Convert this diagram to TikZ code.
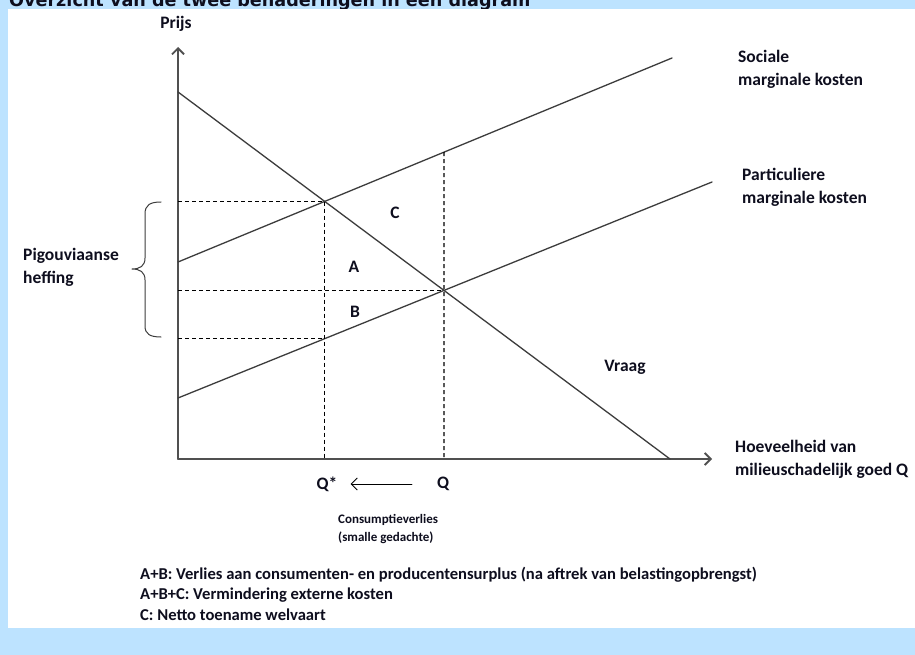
\documentclass[tikz,border=0pt]{standalone}
\usepackage{fontspec}
\setmainfont{Carlito}
\newfontfamily\titlefont{DejaVu Sans}
\usetikzlibrary{arrows.meta}
\definecolor{bgblue}{RGB}{189,227,255}
\definecolor{axisgray}{RGB}{80,80,80}
\definecolor{linegray}{RGB}{60,60,60}
\definecolor{txt}{RGB}{14,14,30}

\begin{document}
\begin{tikzpicture}[x=1pt,y=-1pt,line cap=round,line join=round,
  >={Straight Barb[length=6pt,width=12pt]},
  lbl/.style={font=\fontsize{17.5}{23}\selectfont\bfseries,text=txt,inner sep=0pt,align=left},
  note/.style={font=\fontsize{16.6}{20.5}\selectfont\bfseries,text=txt,inner sep=0pt,align=left},
  small/.style={font=\fontsize{13}{18}\selectfont\bfseries,text=txt,inner sep=0pt,align=left},
  curve/.style={color=linegray,line width=1.3pt},
  guide/.style={black,line width=1.1pt,dash pattern=on 4pt off 3pt,line cap=butt}]
\useasboundingbox (0,0) rectangle (915,655);
\fill[bgblue] (0,0) rectangle (915,655);
\node[anchor=base west,inner sep=0pt,text=txt,font=\titlefont\bfseries\fontsize{17.6}{20}\selectfont] (title) at (9,6.5) {Overzicht van de twee benaderingen in een diagram};
\fill[white] (8,9) rectangle (915,628);
% axes
\coordinate (O) at (178,459);
\coordinate (ytop) at (178,47);
\coordinate (xend) at (712,459);
\draw[->,color=axisgray,line width=1.8pt] (O) -- (ytop);
\draw[->,color=axisgray,line width=1.8pt] (O) -- (xend);
% curves
\coordinate (Da) at (178,92);
\coordinate (Db) at (670,459);
\coordinate (Sa) at (178,262);
\coordinate (Sb) at (672,58);
\coordinate (Pa) at (178,398);
\coordinate (Pb) at (712,182);
\draw[curve] (Da) -- (Db);
\draw[curve] (Sa) -- (Sb);
\draw[curve] (Pa) -- (Pb);
\coordinate (Es) at (intersection of Da--Db and Sa--Sb);
\coordinate (E) at (intersection of Da--Db and Pa--Pb);
\coordinate (Qs) at (Es |- O);
\coordinate (Q) at (E |- O);
\coordinate (Ps) at (intersection of Es--Qs and Pa--Pb);
\coordinate (St) at (intersection of E--Q and Sa--Sb);
% hulplijnen
\draw[guide] (O |- Es) -- (Es) -- (Qs);
\draw[guide] (O |- E) -- (E);
\draw[guide] (O |- Ps) -- (Ps);
\draw[guide] (St) -- (Q);
% accolade
\draw[color=linegray,line width=1pt] (161,202) .. controls (150,202) and (145,205) .. (145,214) -- (145,258)
  .. controls (145,266) and (140,269) .. (132,269) .. controls (140,269) and (145,272) .. (145,280)
  -- (145,326) .. controls (145,334) and (150,337) .. (161,337);
% labels
\node[lbl] (prijs) at (176,24) {Prijs};
\node[lbl,anchor=west] (sociaal) at (738,69.5) {Sociale\\marginale kosten};
\node[lbl,anchor=west] (partic) at (742,187.5) {Particuliere\\marginale kosten};
\node[lbl,anchor=west] (hoev) at (735,459) {Hoeveelheid van\\milieuschadelijk goed Q};
\node[lbl] (vraag) at (625,367) {Vraag};
\node[lbl,anchor=west] (pigou) at (23,267.5) {Pigouviaanse\\heffing};
\node[lbl] (areaC) at (395,213) {C};
\node[lbl] (areaA) at (354,267) {A};
\node[lbl] (areaB) at (355,312) {B};
\node[lbl] (qsl) at (327,484) {Q*};
\node[lbl] (ql) at (443,484) {Q};
\draw[->,color=black,line width=1pt,shorten <=25pt,shorten >=13pt] (ql) -- (qsl);
\node[small,anchor=west] (verlies) at (338,529) {Consumptieverlies\\(smalle gedachte)};
\node[note,anchor=west] (legenda) at (140,593.5) {A+B: Verlies aan consumenten- en producentensurplus (na aftrek van belastingopbrengst)\\A+B+C: Vermindering externe kosten\\C: Netto toename welvaart};
\end{tikzpicture}
\end{document}
